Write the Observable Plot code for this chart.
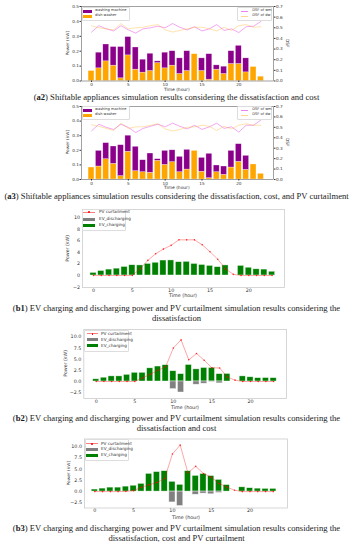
<!DOCTYPE html>
<html><head><meta charset="utf-8">
<script src="https://cdn.jsdelivr.net/npm/d3@7"></script>
<script src="https://cdn.jsdelivr.net/npm/@observablehq/plot@0.6"></script>
<style>
body{margin:0;background:#fff;}
#root{position:relative;width:353px;height:550px;overflow:hidden;font-family:"DejaVu Sans",sans-serif;}
.abs{position:absolute;}
.plot{position:absolute;left:0;overflow:visible;}
.cap{position:absolute;left:0;width:353px;text-align:center;font-family:"Liberation Serif",serif;font-size:8.6px;line-height:10px;color:#1a1a1a;white-space:nowrap;}
.ttl{position:absolute;font-family:"DejaVu Sans",sans-serif;color:#333;white-space:nowrap;transform-origin:center center;}
.lgbox{position:absolute;background:rgba(255,255,255,0.85);border:0.5px solid #ddd;border-radius:1px;}
.lgtxt{position:absolute;font-family:"DejaVu Sans",sans-serif;color:#333;white-space:nowrap;line-height:1;}
</style></head>
<body><div id="root"></div>
<script>
// ---------- data ----------
const hours = [0,1,2,3,4,5,6,7,8,9,10,11,12,13,14,15,16,17,18,19,20,21,22,23];

// (a2) shiftable appliances, dissatisfaction + cost
const a2DishWasher     = [0.067,0.085,0.132,0.103,0.018,0.172,0.076,0.056,0.067,0.120,0.085,0.103,0.047,0.067,0.180,0.067,0.009,0.076,0.047,0.114,0.114,0.058,0.094,0.029];
const a2WashingMachine = [0,0.105,0.113,0.125,0.210,0.123,0.149,0.087,0.116,0.012,0.105,0.097,0.105,0.133,0,0.085,0.171,0.029,0.049,0.086,0.122,0.094,0,0];
const a2DsfWm = [0.459,0.52,0.49,0.47,0.52,0.48,0.45,0.49,0.50,0.515,0.50,0.54,0.505,0.48,0.51,0.47,0.49,0.53,0.475,0.49,0.455,0.51,0.515,0.56];
const a2DsfDw = [0.52,0.50,0.49,0.48,0.54,0.49,0.50,0.505,0.52,0.53,0.48,0.46,0.475,0.49,0.505,0.505,0.49,0.47,0.505,0.475,0.52,0.53,0.505,0.51];

// (a3) shiftable appliances, dissatisfaction + cost + PV curtailment
const a3DishWasher     = [0.082,0.089,0.139,0.107,0.023,0.190,0.057,0.050,0.046,0.128,0.100,0.119,0.050,0.068,0.196,0.053,0.009,0.050,0.032,0.082,0.121,0.066,0.103,0.039];
const a3WashingMachine = [0,0.107,0.110,0.119,0.212,0.110,0.167,0.082,0.132,0.011,0.096,0.081,0.105,0.135,0,0.095,0.167,0.046,0.057,0.114,0.121,0.096,0,0];
const a3DsfWm = [0.466,0.53,0.50,0.48,0.53,0.50,0.45,0.49,0.51,0.53,0.505,0.54,0.51,0.485,0.52,0.48,0.505,0.54,0.49,0.505,0.455,0.52,0.52,0.57];
const a3DsfDw = [0.525,0.51,0.49,0.47,0.54,0.49,0.505,0.505,0.52,0.535,0.485,0.465,0.48,0.50,0.505,0.52,0.51,0.47,0.51,0.485,0.52,0.535,0.52,0.52];

// (b1..b3) EV charging / discharging and PV curtailment
const b1Charging    = [0.45,0.78,1.02,1.18,1.48,1.77,1.74,2.0,2.2,2.58,2.6,2.3,2.36,2.0,1.82,1.66,1.44,1.74,0,1.66,1.34,1.07,1.02,0.65];
const b1Discharging = [0,0,0,0,0,0,0,0,0,0,0,0,0,0,0,0,0,0,0,0,0,0,0,0];
const b1PV          = [0,0,0,0,0,0,1.15,2.6,3.75,4.55,5.2,6.15,6.15,6.15,5.3,4.1,2.8,1.15,0.2,0,0,0,0,0];

const b2Charging    = [0.5,0.85,1.15,1.15,1.5,1.95,1.95,2.95,3.35,3.65,2.3,1.65,3.7,2.72,3.03,3.03,1.65,1.7,0,1.15,0.95,0.75,0.78,0.75];
const b2Discharging = [0,0,0,0,0,0,0,0,0,0,-1.7,-2.46,0,-0.72,-0.5,-0.1,-0.42,0,0,0,0,0,0,0];
const b2PV          = [0,0,0,0,0,0,0.8,1.6,2.5,3.3,7.5,9.3,4.85,6.25,4.75,3.06,3.03,1.0,0.3,0,0,0,0,0];

const b3Charging    = [0.45,0.66,0.88,0.88,1.1,1.3,1.72,3.93,4.33,4.52,2.17,1.5,4.52,3.48,3.9,3.45,2.6,1.45,0,0.95,0.75,0.65,0.6,0.6];
const b3Discharging = [0,0,0,0,0,0,0,0,0,0,-2.4,-3.2,0,-0.7,-0.45,-0.6,-0.3,0,0,0,0,0,0,0];
const b3PV          = [0,0,0,0,0.05,0.2,0.95,1.5,2.0,2.9,8.35,10.3,4.15,5.6,4.0,3.2,1.8,1.0,0.3,0,0,0,0,0];

const xTicks = [0,5,10,15,20];
const powerTicksA = [0,0.1,0.2,0.3,0.4,0.5];
const dsfTicks = [0,0.1,0.2,0.3,0.4,0.5,0.6,0.7];
const powerTicksB1 = [-2,0,2,4,6,8,10];
const powerTicksB = [-2.5,0,2.5,5,7.5,10];

// ---------- helpers ----------
const root = document.getElementById("root");
const BW = 0.4; // half bar width (hours)
const minus = s => s.replace("-", "\u2212");

function place(el, top) { el.classList.add("plot"); el.style.top = top + "px"; root.appendChild(el); }

function aPanel(top, cfg, dw, wm, dsfWm, dsfDw) {
  const k = 0.5 / 0.7; // DSF (0..0.7) mapped onto power (0..0.5)
  const rows = hours.map((h, i) => ({h, dw: dw[i], tot: dw[i] + wm[i], sWm: dsfWm[i] * k, sDw: dsfDw[i] * k}));
  const p = Plot.plot({
    width: 353, height: cfg.height,
    marginLeft: 81, marginRight: 80, marginTop: cfg.mt, marginBottom: cfg.mb,
    style: {fontSize: "4.2px", fontFamily: "DejaVu Sans", color: "#333", background: "transparent", overflow: "visible"},
    x: {domain: [-1.36, 24.71]},
    y: {domain: [0, 0.5]},
    marks: [
      Plot.rect(rows, {x1: d => d.h - BW, x2: d => d.h + BW, y1: 0, y2: "dw", fill: "#ffa500", stroke: "#fff", strokeWidth: 0.5, strokeOpacity: 0.6}),
      Plot.rect(rows.filter(d => d.tot > d.dw), {x1: d => d.h - BW, x2: d => d.h + BW, y1: "dw", y2: "tot", fill: "#8b008b", stroke: "#fff", strokeWidth: 0.5, strokeOpacity: 0.6}),
      Plot.line(rows, {x: "h", y: "sWm", stroke: "#ee82ee", strokeWidth: 0.7}),
      Plot.line(rows, {x: "h", y: "sDw", stroke: "#ffa500", strokeOpacity: 0.45, strokeWidth: 0.7}),
      Plot.frame({stroke: "#444", strokeWidth: 0.5}),
      Plot.axisX({ticks: xTicks, tickSize: 1.5, tickPadding: 0.8, label: null, tickFormat: d => String(d)}),
      Plot.axisY({ticks: powerTicksA, tickSize: 1.5, tickPadding: 1, label: null, tickFormat: d => d.toFixed(1)}),
      Plot.axisY({anchor: "right", ticks: dsfTicks.map(v => v * k), tickSize: 1.5, tickPadding: 1, label: null, tickFormat: d => (d / k).toFixed(1)})
    ]
  });
  place(p, top);
}

function bPanel(top, cfg, ch, dis, pv) {
  const rows = hours.map((h, i) => ({h, ch: ch[i], dis: dis[i], pv: pv[i]}));
  const p = Plot.plot({
    width: 353, height: cfg.height,
    marginLeft: cfg.ml, marginRight: cfg.mr, marginTop: cfg.mt, marginBottom: cfg.mb,
    style: {fontSize: "4.8px", fontFamily: "DejaVu Sans", color: "#333", background: "transparent", overflow: "visible"},
    x: {domain: cfg.xd},
    y: {domain: cfg.yd},
    marks: [
      Plot.rect(rows.filter(d => d.ch > 0), {x1: d => d.h - BW, x2: d => d.h + BW, y1: 0, y2: "ch", fill: "#008000", stroke: "#fff", strokeWidth: 0.6, strokeOpacity: 0.7}),
      Plot.rect(rows.filter(d => d.dis < 0), {x1: d => d.h - BW, x2: d => d.h + BW, y1: 0, y2: "dis", fill: "#808080", stroke: "#fff", strokeWidth: 0.6, strokeOpacity: 0.7}),
      Plot.line(rows, {x: "h", y: "pv", stroke: "#ff0000", strokeOpacity: 0.5, strokeWidth: 0.7}),
      Plot.dot(rows, {x: "h", y: "pv", r: 0.8, fill: "#ff0000", fillOpacity: 0.8}),
      Plot.frame({stroke: "#cccccc", strokeWidth: 0.8}),
      Plot.axisX({ticks: xTicks, tickSize: 0, tickPadding: 1, label: null, tickFormat: d => String(d)}),
      Plot.axisY({ticks: cfg.yt, tickSize: 0, tickPadding: 2.5, label: null, tickFormat: cfg.fmt})
    ]
  });
  place(p, top);
}

function title(text, cx, cy, size, rot) {
  const d = document.createElement("div");
  d.className = "ttl";
  d.textContent = text;
  d.style.fontSize = size + "px";
  d.style.lineHeight = "1";
  root.appendChild(d);
  const w = d.offsetWidth, h = d.offsetHeight;
  d.style.left = (cx - w / 2) + "px";
  d.style.top = (cy - h / 2) + "px";
  if (rot) d.style.transform = "rotate(" + rot + "deg)";
}

function legend(box, items, size) {
  const b = document.createElement("div");
  b.className = "lgbox";
  Object.assign(b.style, {left: box.x + "px", top: box.y + "px", width: box.w + "px", height: box.h + "px"});
  root.appendChild(b);
  for (const it of items) {
    const hd = document.createElement("div");
    hd.className = "abs";
    if (it.type === "patch") {
      Object.assign(hd.style, {left: it.hx + "px", top: (it.y - it.ph / 2) + "px", width: it.hw + "px", height: it.ph + "px", background: it.color});
    } else {
      Object.assign(hd.style, {left: it.hx + "px", top: (it.y - 0.35) + "px", width: it.hw + "px", height: "0.7px", background: it.color, opacity: it.op || 1});
    }
    root.appendChild(hd);
    if (it.dot) {
      const dt = document.createElement("div");
      dt.className = "abs";
      Object.assign(dt.style, {left: (it.hx + it.hw / 2 - 0.9) + "px", top: (it.y - 0.9) + "px", width: "1.8px", height: "1.8px", borderRadius: "50%", background: "#ff0000"});
      root.appendChild(dt);
    }
    const t = document.createElement("div");
    t.className = "lgtxt";
    t.textContent = it.label;
    t.style.fontSize = size + "px";
    root.appendChild(t);
    t.style.left = it.tx + "px";
    t.style.top = (it.y - t.offsetHeight / 2) + "px";
  }
}

function caption(html, top) {
  const d = document.createElement("div");
  d.className = "cap";
  d.innerHTML = html;
  d.style.top = top + "px";
  root.appendChild(d);
}

// ---------- panels ----------
aPanel(0,   {height: 86, mt: 6, mb: 5.5}, a2DishWasher, a2WashingMachine, a2DsfWm, a2DsfDw);
aPanel(100, {height: 85, mt: 6, mb: 6},   a3DishWasher, a3WashingMachine, a3DsfWm, a3DsfDw);

const fmtB1 = d => minus(String(d));
const fmtB = d => minus(d.toFixed(1));
bPanel(200, {height: 93, ml: 82,   mr: 69, mt: 9,   mb: 6,   xd: [-1.42, 24.6],  yd: [-2.07, 11.38], yt: powerTicksB1, fmt: fmtB1}, b1Charging, b1Discharging, b1PV);
bPanel(320, {height: 85, ml: 83.3, mr: 67, mt: 9,   mb: 7,   xd: [-1.61, 24.67], yd: [-3.8, 11.63],  yt: powerTicksB,  fmt: fmtB},  b2Charging, b2Discharging, b2PV);
bPanel(430, {height: 85, ml: 84,   mr: 66, mt: 8.5, mb: 7.5, xd: [-1.33, 24.83], yd: [-3.64, 11.66], yt: powerTicksB,  fmt: fmtB},  b3Charging, b3Discharging, b3PV);

// axis titles
title("Power (kW)", 67.7, 43, 4.3, -90);
title("DSF", 287.3, 43, 4.3, 90);
title("Time (hour)", 177, 89.5, 4.4, 0);
title("Power (kW)", 67.7, 142, 4.3, -90);
title("DSF", 287.3, 142, 4.3, 90);
title("Time (hour)", 177, 188, 4.4, 0);
title("Power (kW)", 68, 248, 4.7, -90);
title("Time (hour)", 183, 296, 4.8, 0);
title("Power (kW)", 66.7, 363, 4.7, -90);
title("Time (hour)", 185, 408.5, 4.8, 0);
title("Power (kW)", 69, 473, 4.3, -90);
title("Time (hour)", 186, 518.5, 4.8, 0);

// legends
function aLegends(y0) {
  legend({x: 82, y: y0 + 0.7, w: 46, h: 12.3}, [
    {type: "patch", color: "#8b008b", label: "washing machine", hx: 83.3, hw: 9, ph: 3, y: y0 + 5, tx: 95},
    {type: "patch", color: "#ffa500", label: "dish washer", hx: 83.3, hw: 9, ph: 3, y: y0 + 10, tx: 95}
  ], 3.6);
  legend({x: 237, y: y0 + 0.7, w: 33, h: 12.3}, [
    {type: "line", color: "#ee82ee", label: "DSF of wm", hx: 240.7, hw: 7.6, y: y0 + 5, tx: 252.3},
    {type: "line", color: "#ffa500", op: 0.45, label: "DSF of dw", hx: 240.7, hw: 7.6, y: y0 + 10, tx: 252.3}
  ], 3.6);
}
aLegends(6);
aLegends(105.3);

function bLegend(bx, by, rows, hx, tx) {
  legend({x: bx, y: by, w: 42.5, h: rows[2] - by + 4}, [
    {type: "line", dot: true, color: "#ff0000", op: 0.5, label: "PV curtailment", hx: hx, hw: 11.5, y: rows[0], tx: tx},
    {type: "patch", color: "#808080", label: "EV_discharging", hx: hx, hw: 11.5, ph: 3, y: rows[1], tx: tx},
    {type: "patch", color: "#008000", label: "EV_charging", hx: hx, hw: 11.5, ph: 3, y: rows[2], tx: tx}
  ], 4.2);
}
bLegend(81.5, 208.8, [212.3, 219, 225], 83, 99);
bLegend(84, 329.7, [333.7, 339.7, 345.7], 86.7, 101);
bLegend(84.5, 439.2, [443.7, 449.4, 455], 86.3, 101);

// captions
caption("(<b>a2</b>) Shiftable appliances simulation results considering the dissatisfaction and cost", 92);
caption("(<b>a3</b>) Shiftable appliances simulation results considering the dissatisfaction, cost, and PV curtailment", 191);
caption("(<b>b1</b>) EV charging and discharging power and PV curtailment simulation results considering the<br>dissatisfaction", 303.3);
caption("(<b>b2</b>) EV charging and discharging power and PV curtailment simulation results considering the<br>dissatisfaction and cost", 413.3);
caption("(<b>b3</b>) EV charging and discharging power and PV curtailment simulation results considering the<br>dissatisfaction, cost and PV curtailment", 523.3);
</script>
</body></html>
